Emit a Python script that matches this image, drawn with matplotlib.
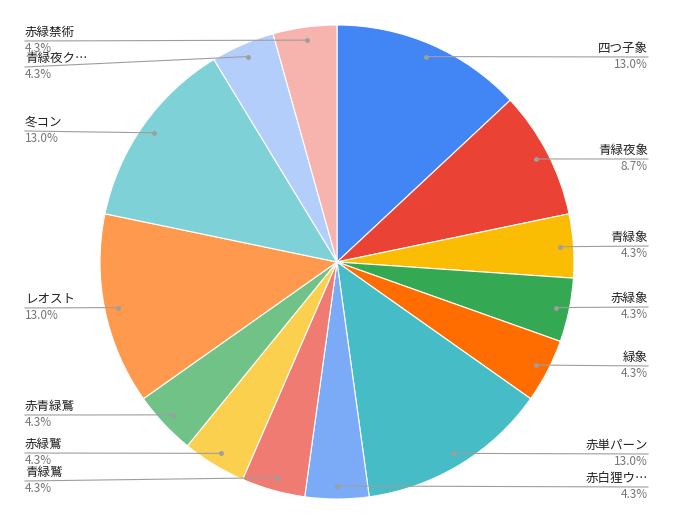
import numpy as np
import matplotlib.pyplot as plt

plt.rcParams['font.family'] = ['Noto Sans CJK JP', 'DejaVu Sans']

labels = ["四つ子象", "青緑夜象", "青緑象", "赤緑象", "緑象", "赤単パーン", "赤白狸ウ…",
          "青緑鷲", "赤緑鷲", "赤青緑鷲", "レオスト", "冬コン", "青緑夜ク…", "赤緑禁術"]
counts = [3, 2, 1, 1, 1, 3, 1, 1, 1, 1, 3, 3, 1, 1]
colors = ["#4285F4", "#EA4335", "#FBBC04", "#34A853", "#FF6D01", "#46BDC6", "#7BAAF7",
          "#F07B72", "#FCD04F", "#71C287", "#FF994D", "#7ED1D7", "#B3CEFB", "#F7B4AE"]
# label line y (pixels) and side
label_y = [57, 159, 246, 307, 366, 454, 487, 481, 453, 415, 308, 131, 67, 41]
label_side = ["R"] * 7 + ["L"] * 7

W, H = 674, 525
cx, cy, R = 337, 262, 237
fig = plt.figure(figsize=(W / 100, H / 100), dpi=100)
ax = fig.add_axes([0, 0, 1, 1])

# pie in y-up coords: center at H - cy
wedges, _ = ax.pie(counts, colors=colors, startangle=90, counterclock=False,
                   center=(cx, H - cy), radius=R,
                   wedgeprops=dict(edgecolor='white', linewidth=0.8))
ax.set_xlim(0, W)
ax.set_ylim(0, H)
ax.set_aspect('equal')
ax.axis('off')

total = sum(counts)
for w, lab, n, ly, side in zip(wedges, labels, counts, label_y, label_side):
    ang = np.deg2rad((w.theta1 + w.theta2) / 2)
    dx = cx + 0.945 * R * np.cos(ang)
    dy = (H - cy) + 0.945 * R * np.sin(ang)
    yy = H - ly
    tx = 648 if side == "R" else 25
    ax.plot([dx, tx], [dy, yy], color='#9e9e9e', lw=0.8, zorder=5)
    ax.plot(dx, dy, 'o', ms=2.5, color='#9e9e9e', zorder=6)
    ha = 'right' if side == "R" else 'left'
    ax.text(tx, yy + 2, lab, ha=ha, va='bottom', fontsize=9, color='#222222')
    ax.text(tx, yy - 1, f"{100 * n / total:.1f}%", ha=ha, va='top', fontsize=8.5,
            color='#757575')

fig.savefig("out.png", dpi=100)
